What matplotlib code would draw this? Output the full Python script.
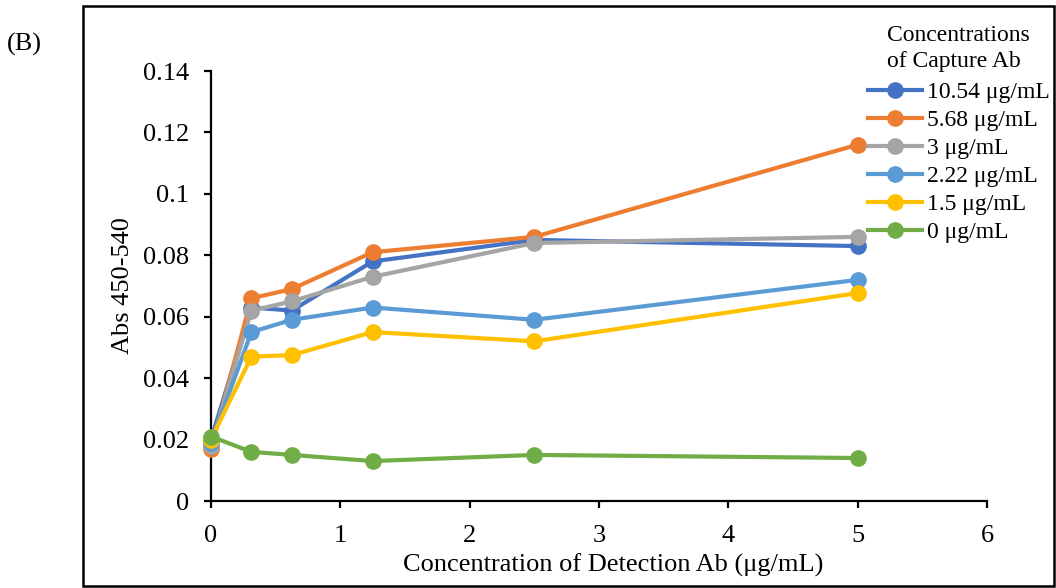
import matplotlib
matplotlib.use("Agg")
import matplotlib.pyplot as plt
from matplotlib.patches import Rectangle

plt.rcParams['font.family'] = ['Liberation Serif', 'DejaVu Serif']

detection_ab = [0, 0.3125, 0.625, 1.25, 2.5, 5]
series_labels = ['10.54 μg/mL', '5.68 μg/mL', '3 μg/mL', '2.22 μg/mL', '1.5 μg/mL', '0 μg/mL']
abs_10_54 = [0.020, 0.063, 0.062, 0.078, 0.085, 0.083]
abs_5_68 = [0.017, 0.066, 0.069, 0.081, 0.086, 0.116]
abs_3 = [0.018, 0.062, 0.065, 0.073, 0.084, 0.086]
abs_2_22 = [0.019, 0.055, 0.059, 0.063, 0.059, 0.072]
abs_1_5 = [0.020, 0.047, 0.0475, 0.055, 0.052, 0.0677]
abs_0 = [0.021, 0.016, 0.015, 0.013, 0.015, 0.014]
colors = ['#4472C4', '#ED7D31', '#A5A5A5', '#5B9BD5', '#FFC000', '#70AD47']
x_ticks = [0, 1, 2, 3, 4, 5, 6]
y_ticks = [0, 0.02, 0.04, 0.06, 0.08, 0.1, 0.12, 0.14]
y_tick_labels = ['0', '0.02', '0.04', '0.06', '0.08', '0.1', '0.12', '0.14']

fig = plt.figure(figsize=(10.56, 5.88), dpi=100)
ax = fig.add_axes([211 / 1056, 1 - 501 / 588, (987 - 211) / 1056, (501 - 71) / 588])

all_series = [abs_10_54, abs_5_68, abs_3, abs_2_22, abs_1_5, abs_0]
handles = []
for vals, lab, c in zip(all_series, series_labels, colors):
    h, = ax.plot(detection_ab, vals, color=c, lw=3, marker='o', ms=11,
                 label=lab, clip_on=False, zorder=3)
    handles.append(h)

ax.set_xlim(0, 6)
ax.set_ylim(0, 0.14)
ax.set_xticks(x_ticks)
ax.set_yticks(y_ticks)
ax.set_yticklabels(y_tick_labels)
for s in ['top', 'right']:
    ax.spines[s].set_visible(False)
for s in ['left', 'bottom']:
    ax.spines[s].set_linewidth(1.6)
    ax.spines[s].set_color('black')
ax.tick_params(direction='out', length=5, width=1.6, labelsize=19)
ax.tick_params(axis='y', pad=11)
ax.tick_params(axis='x', pad=12)
ax.set_xlabel('Concentration of Detection Ab (μg/mL)', fontsize=19)
ax.xaxis.set_label_coords((613 - 211) / (987 - 211), -(565 - 501) / (501 - 71))
ax.xaxis.label.set_va('center')
ax.set_ylabel('Abs 450-540', fontsize=19, labelpad=6)

leg = fig.legend(handles=handles, labels=series_labels,
                 title='Concentrations\nof Capture Ab',
                 loc='upper right', bbox_to_anchor=(1059 / 1056, 1 - 16 / 588),
                 frameon=False, fontsize=17, title_fontsize=17,
                 handlelength=2.3, handletextpad=0.2, labelspacing=0.27,
                 borderaxespad=0.2, borderpad=0.2)
leg._legend_box.align = 'center'
leg._legend_box.sep = 7
leg.get_title().set_linespacing(1.3)

fig.text(7 / 1056, 1 - 44 / 588, '(B)', fontsize=19, ha='left', va='center')

frame = Rectangle((83 / 1056, 1 - 586 / 588), (1054 - 83) / 1056, (586 - 6) / 588,
                  transform=fig.transFigure, fill=False, edgecolor='black', lw=1.8)
fig.patches.append(frame)

fig.savefig('out.png', dpi=100)
